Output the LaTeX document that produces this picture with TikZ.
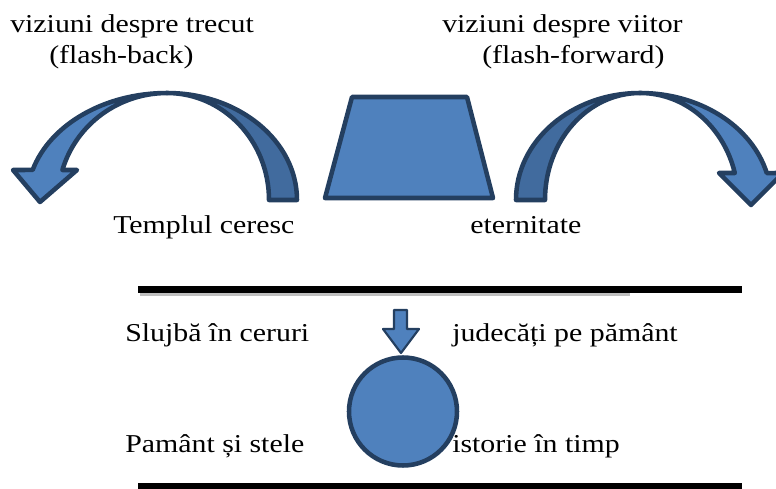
\documentclass[tikz,border=0pt]{standalone}
\usepackage{fontspec}
\setmainfont{Liberation Serif}[FakeStretch=1.16]
\usetikzlibrary{arrows.meta}
\definecolor{shapeblue}{HTML}{4F81BD}
\definecolor{shapeback}{HTML}{416B9E}
\definecolor{shapeedge}{HTML}{243F60}

\begin{document}
\begin{tikzpicture}[x=0.75pt,y=-0.75pt,
    txt/.style={anchor=base west,inner sep=0pt,font=\fontsize{19.3}{23}\selectfont},
    frontpart/.style={fill=shapeblue,draw=shapeedge,line width=3.4pt,line join=round},
    backpart/.style={fill=shapeback,draw=shapeedge,line width=3.4pt,line join=round},
    ruleline/.style={line width=5.25pt}]
    \useasboundingbox (0,0) rectangle (776,489);

    % labels
    \node[txt] (pastA) at (10,32) {viziuni despre trecut};
    \node[txt] (pastB) at (49,63) {(flash-back)};
    \node[txt] (futA) at (442,32) {viziuni despre viitor};
    \node[txt] (futB) at (482,63) {(flash-forward)};
    \node[txt] (temple) at (113,233) {Templul ceresc};
    \node[txt] (etern) at (470,233) {eternitate};
    \node[txt] (service) at (125,341) {Slujbă în ceruri};
    \node[txt] (judge) at (452,341) {judecăți pe pământ};
    \node[txt] (earth) at (125,452) {Pamânt și stele};
    \node[txt] (history) at (452,452) {istorie în timp};

    % curved arrow, left
    \draw[backpart] (297,200) arc[start angle=0,end angle=-90,x radius=130,y radius=107]
        arc[start angle=-90,end angle=0,x radius=102,y radius=107] -- cycle;
    \draw[frontpart] (167,93) arc[start angle=-90,end angle=-163.7,x radius=140,y radius=107]
        -- (13,170) -- (40,202) -- (77,170) -- (62.4,170)
        arc[start angle=-163.7,end angle=-90,x radius=109,y radius=107] -- cycle;

    % curved arrow, right
    \draw[backpart] (516,200) arc[start angle=180,end angle=270,x radius=124,y radius=107]
        arc[start angle=270,end angle=180,x radius=95,y radius=107] -- cycle;
    \draw[frontpart] (640,93) arc[start angle=270,end angle=345.4,x radius=131,y radius=107]
        -- (783,173) -- (751,205) -- (719,173) -- (734.8,173)
        arc[start angle=345.4,end angle=270,x radius=98,y radius=107] -- cycle;

    % trapezoid
    \draw[frontpart] (352,97) -- (467,97) -- (493,198) -- (325,198) -- cycle;

    % lines
    \draw[line width=2.4pt,gray!50] (140,294.5) -- (630,294.5);
    \draw[ruleline] (138,289) -- (742,289);
    \draw[ruleline] (138,486) -- (742,486);

    % small arrow and circle
    \draw[frontpart,line width=1.6pt] (394,310) -- (407,310) -- (407,329) -- (419,329)
        -- (401,353) -- (383,329) -- (394,329) -- cycle;
    \draw[frontpart] (403,411.5) circle[radius=54];
\end{tikzpicture}
\end{document}
